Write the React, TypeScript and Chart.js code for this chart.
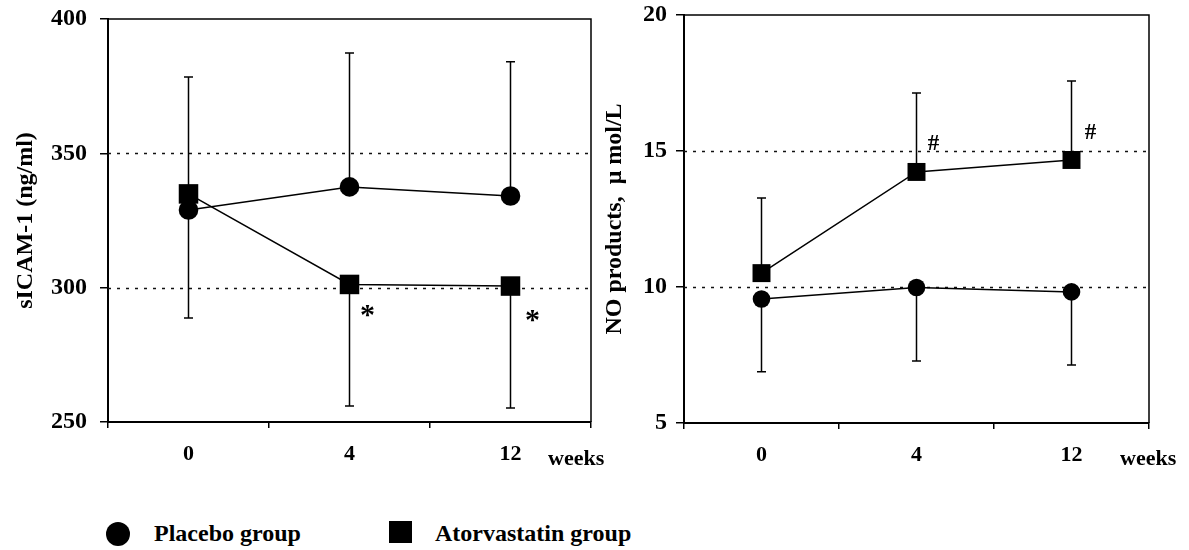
import React, { useEffect, useRef } from 'react';
import { Chart, registerables } from 'chart.js';

Chart.register(...registerables);

const FONT = '"Liberation Serif", "Times New Roman", serif';

// x categories
const weeks = ['0', '4', '12'];

// Left panel: sICAM-1 (ng/ml)
const sicamTicks = [250, 300, 350, 400];
const sicamPlacebo = [328.9, 337.5, 334.1];
const sicamAtorva = [334.9, 301.2, 300.6];
const sicamPlaceboErrEnd = [378.4, 387.3, 384.1];
const sicamAtorvaErrEnd = [288.7, 256.0, 255.2];
const sicamDotted = [300, 350];
const sicamMarkText = ['*', '*'];
const sicamMarkIdx = [1, 2];
const sicamMarkVal = [291.3, 289.5];

// Right panel: NO products, μ mol/L
const noTicks = [5, 10, 15, 20];
const noPlacebo = [9.56, 9.98, 9.82];
const noAtorva = [10.51, 14.23, 14.67];
const noPlaceboErrEnd = [6.88, 7.28, 7.13];
const noAtorvaErrEnd = [13.27, 17.13, 17.57];
const noDotted = [10, 15];
const noMarkText = ['#', '#'];
const noMarkIdx = [1, 2];
const noMarkVal = [15.3, 15.7];

const legendLabels = ['Placebo group', 'Atorvastatin group'];

const decorPlugin = {
  id: 'decor',
  beforeDatasetsDraw(chart: any, _args: any, o: any) {
    const { ctx, chartArea: ca, scales } = chart;
    const x = scales.x;
    const y = scales.y;
    ctx.save();
    // dotted reference lines
    ctx.strokeStyle = '#111';
    ctx.lineWidth = 1.5;
    ctx.setLineDash([3, 6]);
    for (const v of o.dotted) {
      const py = Math.round(y.getPixelForValue(v)) + 0.5;
      ctx.beginPath();
      ctx.moveTo(ca.left, py);
      ctx.lineTo(ca.right, py);
      ctx.stroke();
    }
    ctx.setLineDash([]);
    // top & right frame
    ctx.strokeStyle = '#000';
    ctx.lineWidth = 1.5;
    ctx.beginPath();
    ctx.moveTo(ca.left, ca.top);
    ctx.lineTo(ca.right, ca.top);
    ctx.lineTo(ca.right, ca.bottom);
    ctx.stroke();
    // error bars
    ctx.lineWidth = 1.5;
    chart.data.datasets.forEach((ds: any, di: number) => {
      const ends = o.errEnds[di];
      ds.data.forEach((v: number, i: number) => {
        const px = x.getPixelForValue(i);
        const py0 = y.getPixelForValue(v);
        const py1 = y.getPixelForValue(ends[i]);
        ctx.beginPath();
        ctx.moveTo(px, py0);
        ctx.lineTo(px, py1);
        ctx.moveTo(px - o.cap, py1);
        ctx.lineTo(px + o.cap, py1);
        ctx.stroke();
      });
    });
    ctx.restore();
  },
  afterDraw(chart: any, _args: any, o: any) {
    const { ctx, chartArea: ca, scales } = chart;
    const x = scales.x;
    const y = scales.y;
    ctx.save();
    ctx.fillStyle = '#000';
    // significance marks
    ctx.font = `bold ${o.markSize}px ${FONT}`;
    ctx.textAlign = 'center';
    ctx.textBaseline = 'alphabetic';
    o.markText.forEach((t: string, k: number) => {
      const m = ctx.measureText(t);
      const cx = x.getPixelForValue(o.markIdx[k]) + o.markDx[k];
      const cy = y.getPixelForValue(o.markVal[k]);
      const off = (m.actualBoundingBoxAscent - m.actualBoundingBoxDescent) / 2;
      ctx.fillText(t, cx, cy + off);
    });
    // "weeks" axis caption
    ctx.font = `bold 22px ${FONT}`;
    ctx.textAlign = 'left';
    ctx.fillText('weeks', ca.right + o.weeksDx, o.weeksY);
    ctx.restore();
  },
};

function makeConfig(p: any): any {
  return {
    type: 'line',
    data: {
      labels: weeks,
      datasets: [
        {
          label: legendLabels[0],
          data: p.placebo,
          borderColor: '#000',
          backgroundColor: '#000',
          borderWidth: 1.5,
          pointStyle: 'circle',
          pointRadius: p.circleR,
          pointBorderWidth: 0,
          pointBackgroundColor: '#000',
          clip: false,
          tension: 0,
        },
        {
          label: legendLabels[1],
          data: p.atorva,
          borderColor: '#000',
          backgroundColor: '#000',
          borderWidth: 1.5,
          pointStyle: 'rect',
          pointRadius: p.rectR,
          pointBorderWidth: 0,
          pointBackgroundColor: '#000',
          clip: false,
          tension: 0,
        },
      ],
    },
    options: {
      responsive: false,
      animation: false,
      devicePixelRatio: 1,
      events: [],
      layout: { padding: { left: 0, right: p.padRight, top: p.top, bottom: 0 } },
      plugins: {
        legend: { display: false },
        tooltip: { enabled: false },
        decor: {
          dotted: p.dotted,
          errEnds: p.errEnds,
          cap: 4.5,
          markText: p.markText,
          markIdx: p.markIdx,
          markVal: p.markVal,
          markDx: p.markDx,
          markSize: p.markSize,
          weeksDx: p.weeksDx,
          weeksY: 465,
        },
      },
      scales: {
        x: {
          type: 'category',
          offset: true,
          grid: {
            offset: true,
            drawOnChartArea: false,
            drawTicks: true,
            tickLength: 6,
            color: '#000',
            lineWidth: 1.5,
          },
          border: { color: '#000', width: 2 },
          ticks: {
            color: '#000',
            font: { family: FONT, size: 22, weight: 'bold' },
            padding: 13,
            maxRotation: 0,
            autoSkip: false,
          },
          afterFit: (s: any) => {
            s.height = p.xh;
            s.paddingLeft = 0;
            s.paddingRight = 0;
          },
        },
        y: {
          min: p.ticks[0],
          max: p.ticks[p.ticks.length - 1],
          afterBuildTicks: (s: any) => {
            s.ticks = p.ticks.map((v: number) => ({ value: v }));
          },
          grid: {
            drawOnChartArea: false,
            drawTicks: true,
            tickLength: 8,
            color: '#000',
            lineWidth: 1.5,
          },
          border: { color: '#000', width: 2 },
          ticks: {
            color: '#000',
            font: { family: FONT, size: 24, weight: 'bold' },
            padding: p.yPad,
          },
          title: {
            display: true,
            text: p.title,
            color: '#000',
            font: { family: FONT, size: 24, weight: 'bold' },
            padding: { top: p.titlePad, bottom: 0 },
          },
          afterFit: (s: any) => {
            s.width = p.yw;
            s.paddingTop = 0;
            s.paddingBottom = 0;
          },
        },
      },
    },
    plugins: [decorPlugin],
  };
}

export default function App() {
  const ref1 = useRef<HTMLCanvasElement>(null);
  const ref2 = useRef<HTMLCanvasElement>(null);

  useEffect(() => {
    const c1 = new Chart(
      ref1.current as HTMLCanvasElement,
      makeConfig({
        placebo: sicamPlacebo,
        atorva: sicamAtorva,
        errEnds: [sicamPlaceboErrEnd, sicamAtorvaErrEnd],
        ticks: sicamTicks,
        dotted: sicamDotted,
        markText: sicamMarkText,
        markIdx: sicamMarkIdx,
        markVal: sicamMarkVal,
        markDx: [18, 22],
        markSize: 30,
        title: 'sICAM-1 (ng/ml)',
        titlePad: 11,
        circleR: 9.8,
        rectR: 13.8,
        padRight: 49,
        top: 19,
        xh: 78,
        yw: 108,
        yPad: 13,
        weeksDx: -43,
      })
    );
    const c2 = new Chart(
      ref2.current as HTMLCanvasElement,
      makeConfig({
        placebo: noPlacebo,
        atorva: noAtorva,
        errEnds: [noPlaceboErrEnd, noAtorvaErrEnd],
        ticks: noTicks,
        dotted: noDotted,
        markText: noMarkText,
        markIdx: noMarkIdx,
        markVal: noMarkVal,
        markDx: [17, 19],
        markSize: 23,
        title: 'NO products,  μ mol/L',
        titlePad: 5,
        circleR: 8.8,
        rectR: 12.7,
        padRight: 40,
        top: 15,
        xh: 77,
        yw: 89,
        yPad: 9,
        weeksDx: -29,
      })
    );
    return () => {
      c1.destroy();
      c2.destroy();
    };
  }, []);

  const legendText: React.CSSProperties = {
    position: 'absolute',
    top: 521,
    font: `bold 24px ${FONT}`,
    lineHeight: '24px',
    whiteSpace: 'nowrap',
    color: '#000',
  };

  return (
    <div
      style={{
        position: 'fixed',
        left: 0,
        top: 0,
        width: 1189,
        height: 550,
        background: '#fff',
        overflow: 'hidden',
      }}
    >
      <canvas
        ref={ref1}
        width={640}
        height={500}
        style={{ position: 'absolute', left: 0, top: 0, width: 640, height: 500 }}
      />
      <canvas
        ref={ref2}
        width={594}
        height={500}
        style={{ position: 'absolute', left: 595, top: 0, width: 594, height: 500 }}
      />
      <div
        style={{
          position: 'absolute',
          left: 105.5,
          top: 522,
          width: 24,
          height: 24,
          borderRadius: '50%',
          background: '#000',
        }}
      />
      <div style={{ ...legendText, left: 154 }}>{legendLabels[0]}</div>
      <div
        style={{
          position: 'absolute',
          left: 389,
          top: 521,
          width: 23,
          height: 22,
          background: '#000',
        }}
      />
      <div style={{ ...legendText, left: 435 }}>{legendLabels[1]}</div>
    </div>
  );
}
